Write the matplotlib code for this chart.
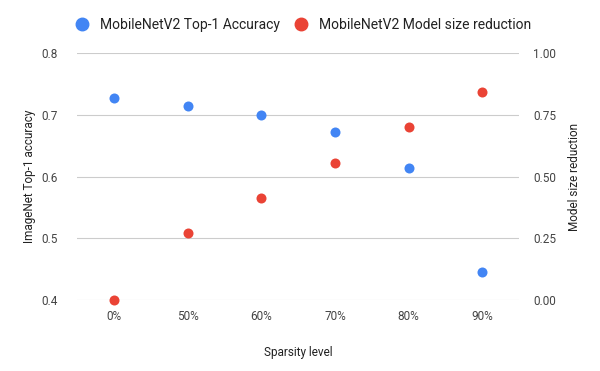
import matplotlib.pyplot as plt
from matplotlib.lines import Line2D

# data
sparsity = ['0%', '50%', '60%', '70%', '80%', '90%']
top1_acc = [0.728, 0.714, 0.700, 0.672, 0.614, 0.445]
size_reduction = [0.0, 0.27, 0.413, 0.557, 0.700, 0.844]

blue = '#4285F4'
red = '#EA4335'

plt.rcParams['font.family'] = ['Roboto', 'DejaVu Sans']

fig = plt.figure(figsize=(6, 3.71), dpi=100)
ax = fig.add_axes([0.129, 0.191, 0.736, 0.666])
ax2 = ax.twinx()

x = list(range(len(sparsity)))
ax.scatter(x, top1_acc, s=52, color=blue, zorder=3, clip_on=False, linewidths=0)
ax2.scatter(x, size_reduction, s=52, color=red, zorder=3, clip_on=False, linewidths=0)

ax.set_xlim(-0.5, len(sparsity) - 0.5)
ax.set_ylim(0.4, 0.8)
ax2.set_ylim(0, 1)
ax.set_yticks([0.4, 0.5, 0.6, 0.7, 0.8])
ax.set_yticklabels(['0.4', '0.5', '0.6', '0.7', '0.8'])
ax2.set_yticks([0, 0.25, 0.5, 0.75, 1.0])
ax2.set_yticklabels(['0.00', '0.25', '0.50', '0.75', '1.00'])
ax.set_xticks(x)
ax.set_xticklabels(sparsity)

ax.grid(axis='y', color='#cccccc', linewidth=0.8)
ax.set_axisbelow(True)
for a in (ax, ax2):
    for s in a.spines.values():
        s.set_visible(False)
    a.tick_params(length=0, labelsize=8.5, colors='#444444')
ax.tick_params(axis='y', pad=14)
ax2.tick_params(axis='y', pad=10)
ax.tick_params(axis='x', pad=7)

ax.set_xlabel('Sparsity level', fontsize=8.5, color='#222222', labelpad=17)
ax.set_ylabel('ImageNet Top-1 accuracy', fontsize=8.5, color='#222222', labelpad=4)
ax2.set_ylabel('Model size reduction', fontsize=8.5, color='#222222', labelpad=9)

handles = [
    Line2D([], [], marker='o', linestyle='', color=blue, markersize=9),
    Line2D([], [], marker='o', linestyle='', color=red, markersize=9),
]
fig.legend(handles, ['MobileNetV2 Top-1 Accuracy', 'MobileNetV2 Model size reduction'],
           loc='center', bbox_to_anchor=(0.5, 0.932), ncol=2, frameon=False,
           fontsize=10, handletextpad=0.3, columnspacing=0.5, labelcolor='#222222')

plt.savefig('out.png', dpi=100)
